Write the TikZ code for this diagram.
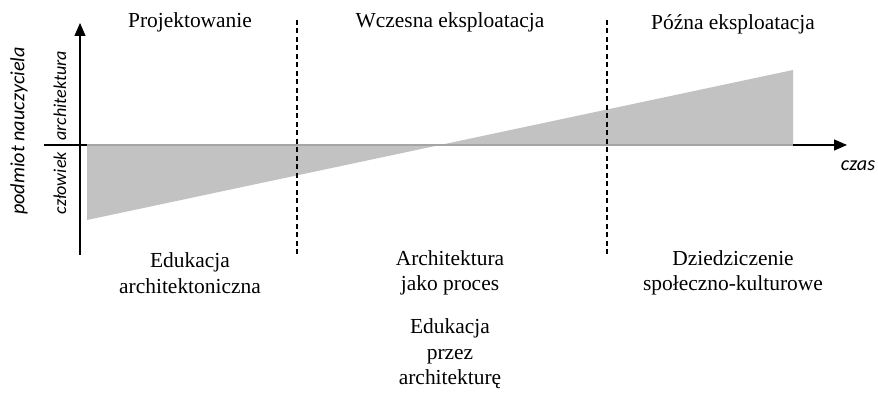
\documentclass[tikz,border=0pt]{standalone}
\usepackage{fontspec}
\setmainfont{Liberation Serif}
\newfontfamily\axisfont{Carlito}
\usetikzlibrary{arrows.meta}
\definecolor{areagray}{RGB}{194,194,194}

\begin{document}
\begin{tikzpicture}[x=0.02cm,y=-0.02cm,
    phase/.style={font=\fontsize{12.2}{14.5}\selectfont, align=center},
    axislabel/.style={font=\axisfont\itshape\fontsize{11.5}{13}\selectfont},
    sidelabel/.style={font=\axisfont\itshape\fontsize{10.3}{12}\selectfont, inner sep=1pt},
    divider/.style={dash pattern=on 1mm off 0.7mm, line width=0.7pt},
    axisarrow/.style={line width=0.7pt, -{Triangle[length=2.6mm,width=2.2mm]}}]
    \useasboundingbox (0,0) rectangle (878,394);

    \coordinate (ybot) at (80,255);
    \coordinate (ytop) at (80,23);
    \coordinate (xleft) at (44,145);
    \coordinate (xright) at (847,145);
    \coordinate (lowstart) at (87,145);
    \coordinate (lowend) at (87,220);
    \coordinate (cross) at (440,145);
    \coordinate (highend) at (793,70);
    \coordinate (highstart) at (793,145);
    \coordinate (div1top) at (297,20);
    \coordinate (div1bot) at (297,256);
    \coordinate (div2top) at (607,20);
    \coordinate (div2bot) at (607,256);

    % shaded areas
    \fill[areagray] (lowstart) -- (lowend) -- (cross) -- cycle;
    \fill[areagray] (cross) -- (highend) -- (highstart) -- cycle;

    % axes
    \draw[axisarrow] (ybot) -- (ytop);
    \draw[line width=0.7pt] (xleft) -- (lowstart);
    \draw[line width=0.7pt, areagray!85!black] (lowstart) -- (highstart);
    \draw[axisarrow] (highstart) -- (xright);

    % phase borders
    \draw[divider] (div1top) -- (div1bot);
    \draw[divider] (div2top) -- (div2bot);

    \node[phase] (design) at (190,22) {Projektowanie};
    \node[phase] (early) at (450,22) {Wczesna eksploatacja};
    \node[phase] (late) at (733,24) {Późna eksploatacja};

    \node[phase] (edu) at (190,273) {Edukacja\\architektoniczna};
    \node[phase] (process) at (450,273) {Architektura\\jako proces};
    \node[phase] (heritage) at (733,273) {Dziedziczenie\\społeczno-kulturowe};
    \node[phase] (through) at (450,354) {Edukacja\\przez\\architekturę};

    \node[axislabel] (time) at (858,166) {czas};
    \node[axislabel, rotate=90] (subject) at (19,131) {podmiot nauczyciela};
    \node[sidelabel, rotate=90, anchor=west] (arch) at (60,143) {architektura};
    \node[sidelabel, rotate=90, anchor=east] (human) at (60,150) {człowiek};
\end{tikzpicture}
\end{document}
